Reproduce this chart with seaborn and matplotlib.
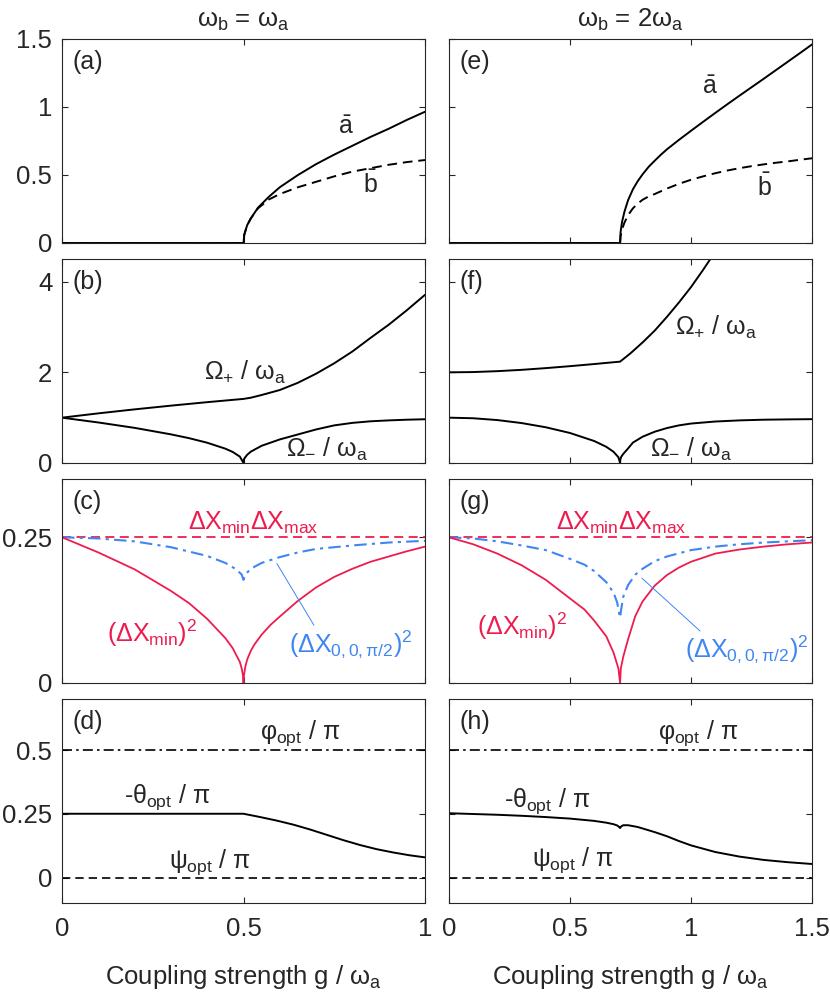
import matplotlib
matplotlib.use("Agg")
import matplotlib.pyplot as plt
import numpy as np
import seaborn as sns

# ---- data ----
# (a) omega_b = omega_a : mean fields
g_mf1 = [0, 0.5, 0.502, 0.51, 0.52, 0.54, 0.57, 0.6, 0.65, 0.7, 0.75, 0.8, 0.85, 0.9, 0.95, 1.0]
abar1 = [0, 0, 0.06, 0.13, 0.18, 0.26, 0.34, 0.41, 0.50, 0.58, 0.65, 0.715, 0.78, 0.84, 0.905, 0.965]
bbar1 = [0, 0, 0.06, 0.13, 0.18, 0.255, 0.32, 0.36, 0.41, 0.45, 0.49, 0.525, 0.55, 0.575, 0.595, 0.61]

# (e) omega_b = 2 omega_a : mean fields
g_mf2 = [0, 0.707, 0.709, 0.715, 0.725, 0.74, 0.76, 0.78, 0.8, 0.825, 0.85, 0.875, 0.9, 0.95,
         1.0, 1.05, 1.1, 1.15, 1.2, 1.25, 1.3, 1.35, 1.4, 1.45, 1.5]
abar2 = [0, 0, 0.08, 0.155, 0.23, 0.315, 0.395, 0.455, 0.505, 0.56, 0.605, 0.648, 0.688, 0.758,
         0.825, 0.891, 0.956, 1.02, 1.083, 1.145, 1.207, 1.27, 1.333, 1.396, 1.46]
bbar2 = [0, 0, 0.05, 0.10, 0.15, 0.205, 0.255, 0.29, 0.318, 0.342, 0.36, 0.38, 0.40, 0.435,
         0.465, 0.49, 0.513, 0.533, 0.55, 0.565, 0.578, 0.59, 0.60, 0.612, 0.623]

# (b) normal mode frequencies
g_op1 = [0, 0.1, 0.2, 0.3, 0.4, 0.5, 0.52, 0.55, 0.6, 0.65, 0.7, 0.75, 0.8, 0.85, 0.9, 0.95, 1.0]
om_plus1 = [1.0, 1.095, 1.183, 1.265, 1.342, 1.414, 1.44, 1.50, 1.61, 1.77, 1.97, 2.20, 2.46,
            2.76, 3.05, 3.37, 3.71]
g_om1 = [0, 0.1, 0.2, 0.3, 0.35, 0.4, 0.45, 0.47, 0.49, 0.5, 0.501, 0.505, 0.51, 0.52, 0.55,
         0.6, 0.65, 0.7, 0.75, 0.8, 0.85, 0.9, 0.95, 1.0]
om_minus1 = [1.0, 0.894, 0.775, 0.632, 0.548, 0.447, 0.316, 0.245, 0.141, 0, 0.08, 0.13, 0.18,
             0.25, 0.38, 0.52, 0.63, 0.74, 0.83, 0.885, 0.92, 0.94, 0.955, 0.965]

# (f)
g_op2 = [0, 0.1, 0.2, 0.3, 0.4, 0.5, 0.6, 0.707, 0.75, 0.8, 0.85, 0.9, 0.95, 1.0, 1.05, 1.1]
om_plus2 = [2.0, 2.006, 2.026, 2.055, 2.093, 2.136, 2.183, 2.236, 2.42, 2.66, 2.92, 3.22, 3.54,
            3.88, 4.26, 4.66]
g_om2 = [0, 0.1, 0.2, 0.3, 0.4, 0.5, 0.6, 0.65, 0.68, 0.7, 0.707, 0.708, 0.712, 0.72, 0.735,
         0.76, 0.8, 0.85, 0.9, 0.95, 1.0, 1.1, 1.2, 1.3, 1.4, 1.5]
om_minus2 = [1.0, 0.987, 0.947, 0.881, 0.788, 0.662, 0.485, 0.357, 0.247, 0.127, 0, 0.08, 0.14,
             0.2, 0.29, 0.45, 0.58, 0.69, 0.77, 0.83, 0.87, 0.915, 0.94, 0.955, 0.962, 0.967]

# (c) variances
g_min1 = [0, 0.1, 0.2, 0.3, 0.35, 0.4, 0.45, 0.47, 0.49, 0.495, 0.499, 0.5, 0.501, 0.505, 0.51,
          0.52, 0.53, 0.55, 0.575, 0.6, 0.65, 0.7, 0.75, 0.8, 0.85, 0.9, 0.95, 1.0]
dxmin1 = [0.25, 0.224, 0.195, 0.158, 0.137, 0.11, 0.077, 0.06, 0.036, 0.025, 0.011, 0.0, 0.012,
          0.028, 0.04, 0.055, 0.066, 0.083, 0.1, 0.114, 0.141, 0.164, 0.182, 0.196, 0.208,
          0.217, 0.226, 0.234]
g_x001 = [0, 0.1, 0.2, 0.3, 0.4, 0.45, 0.48, 0.495, 0.5, 0.505, 0.52, 0.55, 0.6, 0.65, 0.7,
          0.8, 0.9, 1.0]
dx00_1 = [0.25, 0.248, 0.243, 0.233, 0.218, 0.206, 0.195, 0.186, 0.177, 0.186, 0.196, 0.206,
          0.216, 0.224, 0.23, 0.236, 0.241, 0.244]

# (g)
g_min2 = [0, 0.1, 0.2, 0.3, 0.4, 0.5, 0.56, 0.6, 0.65, 0.68, 0.7, 0.707, 0.71, 0.72, 0.74,
          0.77, 0.8, 0.85, 0.9, 0.95, 1.0, 1.1, 1.2, 1.3, 1.4, 1.5]
dxmin2 = [0.25, 0.238, 0.222, 0.202, 0.177, 0.145, 0.126, 0.107, 0.08, 0.052, 0.025, 0, 0.025,
          0.045, 0.075, 0.115, 0.14, 0.167, 0.185, 0.198, 0.208, 0.222, 0.229, 0.234, 0.238, 0.241]
g_x002 = [0, 0.1, 0.2, 0.3, 0.4, 0.5, 0.56, 0.6, 0.65, 0.68, 0.695, 0.703, 0.707, 0.711, 0.72,
          0.74, 0.77, 0.8, 0.85, 0.9, 1.0, 1.1, 1.2, 1.3, 1.4, 1.5]
dx00_2 = [0.25, 0.248, 0.243, 0.236, 0.228, 0.213, 0.203, 0.192, 0.173, 0.155, 0.138, 0.12,
          0.112, 0.125, 0.148, 0.168, 0.186, 0.196, 0.209, 0.217, 0.228, 0.234, 0.238, 0.241,
          0.243, 0.245]

# (d) optimal angles
g_th1 = [0, 0.5, 0.546, 0.592, 0.638, 0.684, 0.73, 0.776, 0.822, 0.867, 0.913, 0.958, 1.0]
theta1 = [0.25, 0.25, 0.237, 0.223, 0.207, 0.188, 0.167, 0.146, 0.127, 0.111, 0.098, 0.087, 0.079]
# (h)
g_th2 = [0, 0.1, 0.2, 0.3, 0.4, 0.5, 0.6, 0.65, 0.68, 0.695, 0.703, 0.707, 0.711, 0.72, 0.74,
         0.78, 0.85, 0.9, 0.95, 1.0, 1.1, 1.2, 1.3, 1.4, 1.5]
theta2 = [0.252, 0.249, 0.246, 0.242, 0.237, 0.231, 0.222, 0.215, 0.209, 0.204, 0.198, 0.194,
          0.2, 0.205, 0.205, 0.198, 0.178, 0.162, 0.143, 0.126, 0.1, 0.082, 0.069, 0.06, 0.053]

phi_opt = [0.5, 0.5]
psi_opt = [0, 0]
dx_prod = [0.25, 0.25]

RED = "#EE1C4E"
BLUE = "#3F86F2"

sns.set_style("ticks")
plt.rcParams["font.family"] = ["Liberation Sans", "DejaVu Sans"]
plt.rcParams["mathtext.fontset"] = "custom"
plt.rcParams["mathtext.rm"] = "Liberation Sans"
plt.rcParams["mathtext.it"] = "Liberation Sans"
plt.rcParams["mathtext.bf"] = "Liberation Sans:bold"
FS = 18.5   # ticks, axis labels, titles
LS = 18     # labels inside panels

fig = plt.figure(figsize=(8.3, 9.98), dpi=100)
W, H = 830, 998
col_x = [62, 449]
col_w = 363
row_top = [39, 259, 479, 699]
row_h = 204

axes = [[None, None] for _ in range(4)]
for r in range(4):
    for c in range(2):
        axes[r][c] = fig.add_axes([col_x[c] / W, 1 - (row_top[r] + row_h) / H, col_w / W, row_h / H])


def line(ax, x, y, **kw):
    sns.lineplot(x=x, y=y, ax=ax, estimator=None, sort=False, **kw)


DASH = (0, (5, 3))
DASHDOT = (0, (6, 2.5, 1.5, 2.5))
LW = 1.4

# row 1
for c, (gx, a_, b_) in enumerate([(g_mf1, abar1, bbar1), (g_mf2, abar2, bbar2)]):
    ax = axes[0][c]
    line(ax, gx, a_, color="black", lw=LW)
    line(ax, gx, b_, color="black", lw=LW, linestyle=DASH)
    ax.set_ylim(0, 1.5)
    ax.set_yticks([0, 0.5, 1, 1.5])
axes[0][0].text(0.782, 0.85, r"$\bar{\mathrm{a}}$", fontsize=LS, ha="center", va="center")
axes[0][0].text(0.85, 0.43, r"$\bar{\mathrm{b}}$", fontsize=LS, ha="center", va="center")
axes[0][1].text(1.08, 1.15, r"$\bar{\mathrm{a}}$", fontsize=LS, ha="center", va="center")
axes[0][1].text(1.305, 0.41, r"$\bar{\mathrm{b}}$", fontsize=LS, ha="center", va="center")

# row 2
line(axes[1][0], g_op1, om_plus1, color="black", lw=LW)
line(axes[1][0], g_om1, om_minus1, color="black", lw=LW)
line(axes[1][1], g_op2, om_plus2, color="black", lw=LW)
line(axes[1][1], g_om2, om_minus2, color="black", lw=LW)
for c in range(2):
    axes[1][c].set_ylim(0, 4.5)
    axes[1][c].set_yticks([0, 2, 4])
om_p = r"$\Omega_{+}$ / $\omega_{\rm a}$"
om_m = r"$\Omega_{-}$ / $\omega_{\rm a}$"
axes[1][0].text(0.503, 2.0, om_p, fontsize=LS, ha="center", va="center")
axes[1][0].text(0.73, 0.29, om_m, fontsize=LS, ha="center", va="center")
axes[1][1].text(1.105, 3.0, om_p, fontsize=LS, ha="center", va="center")
axes[1][1].text(1.0, 0.29, om_m, fontsize=LS, ha="center", va="center")

# row 3
for c, (gm, dm, gb, db, xmax) in enumerate([(g_min1, dxmin1, g_x001, dx00_1, 1.0),
                                            (g_min2, dxmin2, g_x002, dx00_2, 1.5)]):
    ax = axes[2][c]
    line(ax, [0, xmax], dx_prod, color=RED, lw=1.3, linestyle=DASH)
    line(ax, gb, db, color=BLUE, lw=1.5, linestyle=DASHDOT)
    line(ax, gm, dm, color=RED, lw=1.3)
    ax.set_ylim(0, 0.35)
    ax.set_yticks([0, 0.25])

lab_prod = r"$\Delta X_{\rm min}\Delta X_{\rm max}$"
lab_min = r"$(\Delta X_{\rm min})^2$"
lab_00 = r"$(\Delta X_{0,0,\pi/2})^2$"
axes[2][0].text(0.528, 0.275, lab_prod, color=RED, fontsize=LS, ha="center", va="center")
axes[2][0].text(0.248, 0.085, lab_min, color=RED, fontsize=LS, ha="center", va="center")
axes[2][0].text(0.795, 0.066, lab_00, color=BLUE, fontsize=LS, ha="center", va="center")
axes[2][0].annotate("", xy=(0.588, 0.209), xytext=(0.698, 0.095),
                    arrowprops=dict(arrowstyle="-", color=BLUE, lw=0.7))
axes[2][1].text(0.71, 0.275, lab_prod, color=RED, fontsize=LS, ha="center", va="center")
axes[2][1].text(0.30, 0.097, lab_min, color=RED, fontsize=LS, ha="center", va="center")
axes[2][1].text(1.23, 0.058, lab_00, color=BLUE, fontsize=LS, ha="center", va="center")
axes[2][1].annotate("", xy=(0.789, 0.183), xytext=(1.046, 0.086),
                    arrowprops=dict(arrowstyle="-", color=BLUE, lw=0.7))

# row 4
for c, (gt, th, xmax) in enumerate([(g_th1, theta1, 1.0), (g_th2, theta2, 1.5)]):
    ax = axes[3][c]
    line(ax, [0, xmax], phi_opt, color="black", lw=1.2, linestyle=DASHDOT)
    line(ax, [0, xmax], psi_opt, color="black", lw=1.2, linestyle=DASH)
    line(ax, gt, th, color="black", lw=LW)
    ax.set_ylim(-0.1, 0.7)
    ax.set_yticks([0, 0.25, 0.5])
phi_l = r"$\varphi_{\rm opt}$ / $\pi$"
th_l = r"-$\theta_{\rm opt}$ / $\pi$"
psi_l = r"$\psi_{\rm opt}$ / $\pi$"
axes[3][0].text(0.657, 0.566, phi_l, fontsize=LS, ha="center", va="center")
axes[3][0].text(0.29, 0.316, th_l, fontsize=LS, ha="center", va="center")
axes[3][0].text(0.407, 0.062, psi_l, fontsize=LS, ha="center", va="center")
axes[3][1].text(1.03, 0.566, phi_l, fontsize=LS, ha="center", va="center")
axes[3][1].text(0.405, 0.30, th_l, fontsize=LS, ha="center", va="center")
axes[3][1].text(0.51, 0.068, psi_l, fontsize=LS, ha="center", va="center")

# common styling
letters = [["(a)", "(e)"], ["(b)", "(f)"], ["(c)", "(g)"], ["(d)", "(h)"]]
ytl = {0: ["0", "0.5", "1", "1.5"], 1: ["0", "2", "4"], 2: ["0", "0.25"], 3: ["0", "0.25", "0.5"]}
for r in range(4):
    for c in range(2):
        ax = axes[r][c]
        if c == 0:
            ax.set_xlim(0, 1)
            ax.set_xticks([0, 0.5, 1])
            xl = ["0", "0.5", "1"]
        else:
            ax.set_xlim(0, 1.5)
            ax.set_xticks([0, 0.5, 1, 1.5])
            xl = ["0", "0.5", "1", "1.5"]
        if r == 3:
            ax.set_xticklabels(xl)
            ax.set_xlabel(r"Coupling strength g / $\omega_{\rm a}$", fontsize=FS, labelpad=16)
        else:
            ax.set_xticklabels([])
            ax.set_xlabel("")
        if c == 0:
            ax.set_yticklabels(ytl[r])
        else:
            ax.set_yticklabels([])
        ax.set_ylabel("")
        ax.tick_params(direction="in", top=True, right=True, length=4, width=0.8,
                       color="#262626", labelsize=FS, pad=7)
        ax.tick_params(axis="x", pad=10)
        for s in ax.spines.values():
            s.set_visible(True)
            s.set_color("#262626")
            s.set_linewidth(0.8)
        ax.text(0.03, 0.885, letters[r][c], transform=ax.transAxes, fontsize=LS,
                ha="left", va="center")

axes[0][0].set_title(r"$\omega_{\rm b}$ = $\omega_{\rm a}$", fontsize=FS, pad=9)
axes[0][1].set_title(r"$\omega_{\rm b}$ = 2$\omega_{\rm a}$", fontsize=FS, pad=9)

fig.savefig("out.png", dpi=100)
